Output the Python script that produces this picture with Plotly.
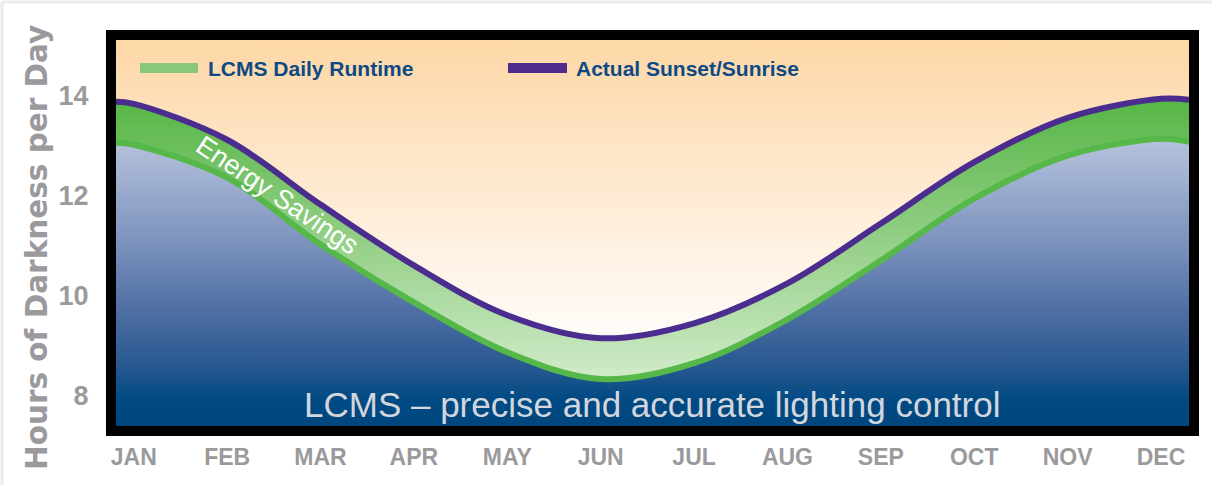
import plotly.graph_objects as go

# ---------------- data ----------------
months = ["JAN", "FEB", "MAR", "APR", "MAY", "JUN",
          "JUL", "AUG", "SEP", "OCT", "NOV", "DEC"]
month_idx = list(range(len(months)))

# sample positions in month units (incl. the plot's left/right edges)
sample_pos = [-0.19, 0, 1, 2, 3, 4, 5, 6, 7, 8, 9, 10, 11, 11.3]
sunset_sunrise = [13.88, 13.84, 13.12, 11.82, 10.60, 9.60, 9.14,
                  9.44, 10.24, 11.44, 12.67, 13.56, 13.94, 13.92]
lcms_runtime = [13.06, 13.02, 12.36, 11.02, 9.86, 8.86, 8.32,
                8.64, 9.52, 10.70, 11.94, 12.80, 13.14, 13.08]

y_ticks = [8, 10, 12, 14]
y_range = [7.38, 15.12]
x_range = [-0.19, 11.30]
sky_top = 16.0

GREY = "#9a9a9c"
NAVY_TEXT = "#0d4a84"
PURPLE = "#4b2d8f"
GREEN = "#55b848"

fig = go.Figure()

# LCMS runtime line, blue gradient below
fig.add_trace(go.Scatter(
    x=sample_pos, y=lcms_runtime, mode="lines", name="LCMS Daily Runtime",
    line=dict(color=GREEN, width=6, shape="spline", smoothing=1.0),
    fill="tozeroy",
    fillgradient=dict(type="vertical", start=y_range[0], stop=13.2,
                      colorscale=[[0, "#00467e"], [0.09, "#004a84"],
                                  [0.2, "#26578f"], [0.4, "#4f6fa4"],
                                  [0.65, "#7f95bf"], [1, "#b8c4de"]]),
    hoverinfo="skip", showlegend=False))

# Actual sunset/sunrise line, green energy-savings band between
fig.add_trace(go.Scatter(
    x=sample_pos, y=sunset_sunrise, mode="lines", name="Actual Sunset/Sunrise",
    line=dict(color=PURPLE, width=6, shape="spline", smoothing=1.0),
    fill="tonexty",
    fillgradient=dict(type="vertical", start=8.3, stop=14.0,
                      colorscale=[[0, "#d2ebca"], [0.5, "#93cf86"],
                                  [1, "#55b544"]]),
    hoverinfo="skip", showlegend=False))

# sky gradient above the sunset line
fig.add_trace(go.Scatter(
    x=sample_pos, y=[sky_top] * len(sample_pos), mode="lines",
    line=dict(width=0, color="rgba(0,0,0,0)"),
    fill="tonexty",
    fillgradient=dict(type="vertical", start=9.1, stop=y_range[1],
                      colorscale=[[0, "#fffdfa"], [0.5, "#feead2"],
                                  [1, "#fdd7a6"]]),
    hoverinfo="skip", showlegend=False))

W, H = 1212, 485
ML, MR, MT, MB = 116, 23, 40, 59
PW, PH = W - ML - MR, H - MT - MB


def px(xp):
    return (xp - ML) / PW


def py(yp):
    return (H - MB - yp) / PH


shapes = [
    # faint card edge
    dict(type="line", xref="paper", yref="paper", x0=px(2), x1=px(W + 5),
         y0=py(2), y1=py(2), line=dict(color="#ececec", width=3)),
    dict(type="line", xref="paper", yref="paper", x0=px(2), x1=px(2),
         y0=py(2), y1=py(H + 5), line=dict(color="#ececec", width=3)),
    # legend swatches
    dict(type="line", xref="paper", yref="paper", x0=px(140), x1=px(198),
         y0=py(68), y1=py(68), line=dict(color="#88c878", width=10)),
    dict(type="line", xref="paper", yref="paper", x0=px(508), x1=px(567),
         y0=py(68), y1=py(68), line=dict(color="#4f2d8f", width=10)),
]

annotations = [
    dict(text="LCMS Daily Runtime", xref="paper", yref="paper",
         x=px(206), y=py(68), xanchor="left", yanchor="middle", showarrow=False,
         font=dict(family="Liberation Sans", size=21, color=NAVY_TEXT, weight="bold")),
    dict(text="Actual Sunset/Sunrise", xref="paper", yref="paper",
         x=px(574), y=py(68), xanchor="left", yanchor="middle", showarrow=False,
         font=dict(family="Liberation Sans", size=21, color=NAVY_TEXT, weight="bold")),
    dict(text="Energy Savings", xref="paper", yref="paper",
         x=px(277), y=py(195), xanchor="center", yanchor="middle",
         showarrow=False, textangle=34,
         font=dict(family="Liberation Sans", size=27, color="white")),
    dict(text="LCMS \u2013 precise and accurate lighting control",
         xref="paper", yref="paper", x=px(652), y=py(404), xanchor="center",
         yanchor="middle", showarrow=False,
         font=dict(family="Liberation Sans", size=35, color="#d3d6dc")),
    dict(text="Hours of Darkness per Day", xref="paper", yref="paper",
         x=px(37), y=py(248), xanchor="center", yanchor="middle",
         showarrow=False, textangle=-90,
         font=dict(family="DejaVu Sans", size=29.5, color=GREY, weight="bold")),
]

fig.update_layout(
    width=W, height=H,
    margin=dict(l=ML, r=MR, t=MT, b=MB, pad=0),
    paper_bgcolor="white", plot_bgcolor="white",
    showlegend=False,
    shapes=shapes, annotations=annotations,
    xaxis=dict(range=x_range, tickmode="array", tickvals=month_idx,
               ticktext=months, showgrid=False, zeroline=False,
               showline=True, mirror=True, linewidth=10, linecolor="black",
               ticks="", ticklabelstandoff=1,
               tickfont=dict(family="Liberation Sans", size=23, color=GREY,
                             weight="bold")),
    yaxis=dict(range=y_range, tickmode="array", tickvals=y_ticks,
               showgrid=False, zeroline=False,
               showline=True, mirror=True, linewidth=10, linecolor="black",
               ticks="", ticklabelstandoff=12,
               tickfont=dict(family="Liberation Sans", size=27, color=GREY,
                             weight="bold")),
)

fig.write_html("out.html", config={"displayModeBar": False},
               post_script="document.body.style.margin='0';")
